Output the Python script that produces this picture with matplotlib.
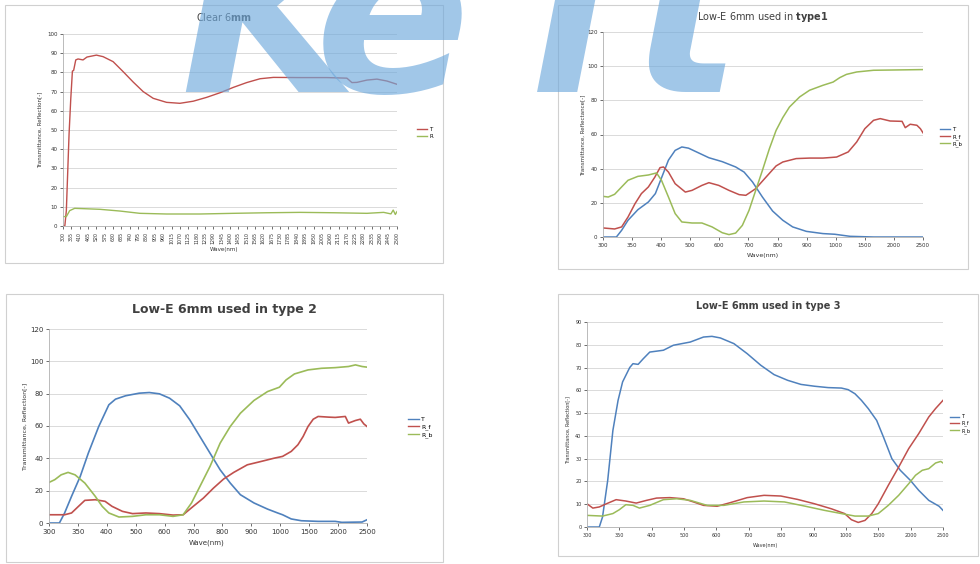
import matplotlib.pyplot as plt
import numpy as np
from matplotlib.patches import Rectangle
from matplotlib.lines import Line2D

# --- data ---
# Clear 6mm
clear_T_wl = [300, 312, 322, 340, 351, 362, 370, 384, 399, 432, 458, 520, 564, 630, 696, 762, 828, 894,
              982, 1070, 1158, 1246, 1334, 1422, 1510, 1598, 1686, 1862, 2038, 2170, 2203, 2236, 2302,
              2368, 2434, 2500]
clear_T = [0, 0, 8, 48, 66, 80.7, 81, 86.5, 87, 86.5, 88, 89, 88.2, 85.6, 80.4, 75, 70, 66.5,
           64.4, 63.9, 65, 67, 69.4, 72.2, 74.7, 76.7, 77.4, 77.3, 77.3, 77, 74.7, 74.8, 76,
           76.5, 75.5, 73.8]
clear_R_wl = [300, 322, 344, 377, 542, 674, 806, 982, 1202, 1422, 1642, 1862, 2082, 2302, 2412,
              2460, 2475, 2489, 2500]
clear_R = [4.9, 4.9, 8, 9.2, 8.7, 7.8, 6.6, 6.25, 6.25, 6.6, 6.9, 7.1, 6.9, 6.6, 7.1,
           6.3, 8.3, 6.0, 7.5]

# Low-E type1
t1_T_wl = [300, 323, 332, 343, 360, 378, 390, 402, 425, 448, 471, 494, 529, 564, 610, 656, 685,
           714, 748, 783, 818, 852, 899, 956, 997, 1245, 1650, 2500]
t1_T = [0, 0, 3.9, 9.8, 16, 20.5, 25.4, 35, 45, 50.7, 52.7, 52, 49.2, 46.4, 44.1, 41, 38,
        32.2, 23.4, 15.2, 9.8, 5.9, 3.3, 2, 1.6, 0.4, 0, 0]
t1_Rf_wl = [300, 320, 332, 343, 355, 366, 378, 389, 398, 408, 425, 448, 483, 506, 540, 564, 598,
            633, 668, 691, 725, 760, 795, 818, 864, 910, 956, 1015, 1215, 1360, 1500, 1650, 1765,
            1935, 2140, 2195, 2280, 2395, 2455, 2500]
t1_Rf = [5.3, 4.7, 5.9, 11.7, 19.5, 25.4, 29.3, 35, 40.6, 41, 38, 31.2, 26.3, 27.3, 30.2, 31.8, 30.2,
         27.3, 24.8, 24.4, 28.3, 35, 41.6, 43.9, 45.9, 46.2, 46.2, 46.8, 49.8, 55.6, 63.4, 68.3, 69.3,
         67.9, 67.7, 64, 66, 65.4, 63.4, 61]
t1_Rb_wl = [300, 309, 320, 332, 343, 360, 378, 392, 401, 425, 448, 471, 506, 540, 575, 610, 633,
            656, 679, 702, 725, 748, 772, 795, 818, 841, 876, 910, 956, 991, 1070, 1185, 1360,
            1650, 2500]
t1_Rb = [23.8, 23.4, 25, 29.3, 33.2, 35.5, 36.3, 37.5, 33.2, 23.4, 13.7, 8.8, 8.2, 8.2, 5.9, 2.5, 1.4,
         2.3, 6.8, 15.6, 27.3, 39, 51.7, 62.4, 69.9, 76.1, 82, 85.9, 88.8, 90.7, 93.3, 95.2, 96.6,
         97.6, 98]

# Low-E type 2
t2_T_wl = [300, 318, 327, 339, 354, 368, 386, 407, 430, 465, 512, 547, 582, 617, 652, 687, 722,
           757, 792, 827, 862, 909, 956, 991, 1040, 1190, 1365, 1655, 1950, 2065, 2415, 2500]
t2_T = [0, 0, 6.2, 16.5, 28.8, 43.2, 59.7, 73.1, 76.6, 78.7, 80.3, 80.7, 79.9, 77.2, 72.5, 63.8, 53.5,
        43.2, 32.9, 24.7, 17.5, 12.4, 8.6, 6.2, 5.1, 2.5, 1.4, 1, 1, 0.4, 0.6, 2]
t2_Rf_wl = [300, 327, 339, 351, 362, 380, 397, 418, 454, 489, 535, 582, 629, 664, 699, 734, 769,
            804, 839, 886, 932, 979, 1040, 1190, 1305, 1395, 1480, 1570, 1655, 1830, 1950, 2125,
            2180, 2300, 2385, 2445, 2500]
t2_Rf = [5.1, 5.1, 6.2, 10.3, 14, 14.4, 13.4, 10.3, 7.2, 5.8, 6.2, 5.8, 4.9, 5.1, 10.3, 15.4, 21.6,
         27.2, 31.3, 36, 38, 40.1, 41.2, 44.3, 48.4, 53.5, 59.7, 64.2, 65.9, 65.5, 65.3, 65.9,
         61.8, 63.4, 64.2, 61.3, 59.7]
t2_Rb_wl = [300, 310, 321, 333, 345, 362, 380, 392, 407, 442, 489, 535, 582, 629, 664, 693, 722,
            757, 792, 827, 862, 909, 956, 997, 1100, 1245, 1480, 1715, 1950, 2180, 2300, 2415, 2500]
t2_Rb = [25.1, 26.8, 29.8, 31.3, 29.8, 24.7, 16.5, 10.3, 6.2, 3.7, 4.1, 5.1, 5.1, 4.1, 5.1, 12.4, 22.6,
         35, 49.4, 59.7, 67.9, 75.8, 81.3, 84, 88.5, 92.2, 94.7, 95.7, 96.1, 96.8, 97.8, 96.8, 96.4]

# Low-E type 3
t3_T_wl = [300, 319, 324, 332, 340, 348, 355, 366, 371, 379, 387, 397, 436, 467, 519, 560, 586, 612,
           654, 695, 737, 778, 820, 861, 903, 945, 986, 1035, 1140, 1240, 1345, 1475, 1580, 1710,
           1840, 1995, 2125, 2280, 2440, 2500]
t3_T = [0, 0, 4.4, 20.5, 42.4, 55.6, 63.7, 70, 71.7, 71.4, 73.9, 76.8, 77.6, 79.8, 81.2, 83.4, 83.7, 83,
        80.5, 76.1, 71, 66.9, 64.4, 62.6, 61.8, 61.2, 61, 60.3, 58.5, 55.6, 52, 46.8, 39.5, 30,
        24.9, 20.5, 16.1, 11.7, 9.1, 7.3]
t3_Rf_wl = [300, 309, 319, 330, 345, 360, 376, 392, 415, 456, 498, 529, 560, 602, 643, 695, 747, 799,
            851, 903, 955, 996, 1085, 1190, 1295, 1400, 1500, 1655, 1815, 1970, 2125, 2280, 2385, 2500]
t3_Rf = [10.2, 8.3, 8.8, 10.2, 12, 11.4, 10.5, 11.7, 12.7, 12.9, 12.4, 11, 9.5, 9.1, 10.7, 12.9, 13.9,
         13.6, 12.1, 10.2, 8, 5.9, 3.2, 2, 2.9, 5.9, 10.2, 18.3, 26.3, 34.4, 41, 48.3, 52, 55.6]
t3_Rb_wl = [300, 324, 340, 350, 360, 371, 381, 397, 436, 477, 519, 571, 623, 685, 747, 810, 872, 934,
            986, 1140, 1345, 1500, 1655, 1815, 1970, 2075, 2180, 2280, 2385, 2465, 2500]
t3_Rb = [5.1, 4.8, 5.9, 7.6, 9.8, 9.5, 8.3, 9.5, 12, 12.4, 11.7, 9.5, 9.5, 11, 11.4, 11, 9.2, 7.3,
         5.9, 4.8, 4.8, 5.9, 9.5, 13.9, 19, 22.7, 24.9, 25.6, 28.1, 28.8, 28.1]

# category labels on the Low-E charts (evenly spaced in Excel)
lowe_ticks = [300, 350, 400, 500, 600, 700, 800, 900, 1000, 1500, 2000, 2500]
clear_ticks = list(range(300, 2501, 55))

BLUE, RED, GREEN = '#4F81BD', '#C0504D', '#9BBB59'
W, H = 980, 564

fig = plt.figure(figsize=(9.8, 5.64), dpi=100)


def fx(x):
    return x / W


def fy(y):
    return 1 - y / H


def make_ax(x0, y0, x1, y1):
    return fig.add_axes([fx(x0), fy(y1), fx(x1 - x0), (y1 - y0) / H])


def frame(x0, y0, x1, y1):
    fig.patches.append(Rectangle((fx(x0), fy(y1)), fx(x1 - x0), (y1 - y0) / H,
                                 transform=fig.transFigure, fill=False,
                                 edgecolor='#d0d0d0', linewidth=0.8))


def style(ax, ymax, ystep, fs):
    ax.set_ylim(0, ymax)
    ax.set_yticks(np.arange(0, ymax + 1, ystep))
    ax.yaxis.grid(True, color='#d4d4d4', linewidth=0.6)
    ax.set_axisbelow(True)
    for s in ['top', 'right']:
        ax.spines[s].set_visible(False)
    for s in ['left', 'bottom']:
        ax.spines[s].set_color('#b0b0b0')
        ax.spines[s].set_linewidth(0.6)
    ax.tick_params(labelsize=fs, colors='#333333', length=2, width=0.5, pad=2)


def lowe_scale(ax):
    idx = np.arange(len(lowe_ticks))
    ax.set_xscale('function', functions=(lambda v: np.interp(v, lowe_ticks, idx),
                                         lambda p: np.interp(p, idx, lowe_ticks)))
    ax.set_xlim(300, 2500)
    ax.set_xticks(lowe_ticks)
    ax.set_xticklabels([str(t) for t in lowe_ticks])
    ax.minorticks_off()


def legend(ax, labels, colors, x, y, fs):
    handles = [Line2D([], [], color=c, lw=1.0) for c in colors]
    ax.legend(handles, labels, loc='center left', bbox_to_anchor=(fx(x), fy(y)),
              bbox_transform=fig.transFigure, frameon=False, fontsize=fs,
              handlelength=1.8, handletextpad=0.4, labelspacing=0.3)


# --- panel 1: Clear 6mm ---
frame(5, 5, 443, 263)
ax1 = make_ax(63, 34, 397, 226)
ax1.plot(clear_T_wl, clear_T, color=RED, lw=1.0)
ax1.plot(clear_R_wl, clear_R, color=GREEN, lw=1.0)
style(ax1, 100, 10, 4)
ax1.set_xlim(300, 2500)
ax1.set_xticks(clear_ticks)
ax1.set_xticklabels([str(t) for t in clear_ticks], rotation=90, fontsize=3.4)
legend(ax1, ['T', 'R'], [RED, GREEN], 412, 133, 4)
fig.text(fx(224), fy(17), 'Clear 6$\\bf{mm}$', ha='center', va='center', fontsize=7, color='#404040')
fig.text(fx(224), fy(250), 'Wave(nm)', ha='center', va='center', fontsize=4, color='#333333')
fig.text(fx(40), fy(130), 'Transmittance, Reflection[-]', ha='center', va='center',
         rotation=90, fontsize=4, color='#333333')

# --- panel 2: type1 ---
frame(558, 5, 968, 269)
ax2 = make_ax(603, 32, 923, 237)
ax2.plot(t1_T_wl, t1_T, color=BLUE, lw=1.1)
ax2.plot(t1_Rf_wl, t1_Rf, color=RED, lw=1.1)
ax2.plot(t1_Rb_wl, t1_Rb, color=GREEN, lw=1.1)
style(ax2, 120, 20, 4)
lowe_scale(ax2)
legend(ax2, ['T', 'R_f', 'R_b'], [BLUE, RED, GREEN], 935, 137, 4)
fig.text(fx(763), fy(17), 'Low-E 6mm used in $\\bf{type1}$', ha='center', va='center',
         fontsize=7, color='#404040')
fig.text(fx(763), fy(256), 'Wave(nm)', ha='center', va='center', fontsize=4.5, color='#333333')
fig.text(fx(583), fy(135), 'Transmittance, Reflectance[-]', ha='center', va='center',
         rotation=90, fontsize=4, color='#333333')

# --- panel 3: type 2 ---
frame(6, 294, 443, 562)
ax3 = make_ax(49, 329, 367, 523)
ax3.plot(t2_T_wl, t2_T, color=BLUE, lw=1.2)
ax3.plot(t2_Rf_wl, t2_Rf, color=RED, lw=1.2)
ax3.plot(t2_Rb_wl, t2_Rb, color=GREEN, lw=1.2)
style(ax3, 120, 20, 5)
lowe_scale(ax3)
legend(ax3, ['T', 'R_f', 'R_b'], [BLUE, RED, GREEN], 402, 427, 4.5)
fig.text(fx(224), fy(310), 'Low-E 6mm used in type 2', ha='center', va='center',
         fontsize=9, fontweight='bold', color='#404040')
fig.text(fx(207), fy(543), 'Wave(nm)', ha='center', va='center', fontsize=5, color='#333333')
fig.text(fx(25), fy(426), 'Transmittance, Reflection[-]', ha='center', va='center',
         rotation=90, fontsize=4.5, color='#333333')

# --- panel 4: type 3 ---
frame(558, 294, 978, 556)
ax4 = make_ax(587, 322, 943, 527)
ax4.plot(t3_T_wl, t3_T, color=BLUE, lw=1.1)
ax4.plot(t3_Rf_wl, t3_Rf, color=RED, lw=1.1)
ax4.plot(t3_Rb_wl, t3_Rb, color=GREEN, lw=1.1)
style(ax4, 90, 10, 3.5)
lowe_scale(ax4)
legend(ax4, ['T', 'R_f', 'R_b'], [BLUE, RED, GREEN], 946, 424, 3.5)
fig.text(fx(768), fy(306), 'Low-E 6mm used in type 3', ha='center', va='center',
         fontsize=7, fontweight='bold', color='#404040')
fig.text(fx(765), fy(545), 'Wave(nm)', ha='center', va='center', fontsize=3.5, color='#333333')
fig.text(fx(568), fy(430), 'Transmittance, Reflection[-]', ha='center', va='center',
         rotation=90, fontsize=3.5, color='#333333')

# --- watermark logo across the top (letters spread like the scanned logo) ---
for letter, lx in [('K', 180), ('e', 315), ('i', 530), ('t', 630)]:
    fig.text(fx(lx), fy(92), letter, ha='left', va='baseline', fontsize=165, fontweight='bold',
             style='italic', color='#6fa9dc', alpha=0.65, zorder=10)

fig.savefig('out.png', dpi=100)
